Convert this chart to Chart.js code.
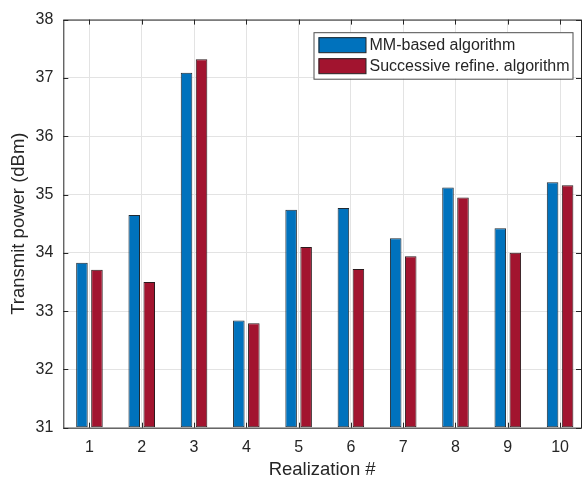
<!DOCTYPE html>
<html>
<head>
<meta charset="utf-8">
<script src="https://cdn.jsdelivr.net/npm/chart.js@4.4.1/dist/chart.umd.min.js"></script>
<style>
  html, body { margin: 0; padding: 0; background: #fff; }
  #wrap { width: 587px; height: 482px; }
</style>
</head>
<body>
<div id="wrap"><canvas id="chart" width="587" height="482"></canvas></div>
<script>
// realizaciones en el eje x
const categories = [1, 2, 3, 4, 5, 6, 7, 8, 9, 10];
const mmValues = [33.83, 34.65, 37.09, 32.84, 34.74, 34.77, 34.25, 35.12, 34.42, 35.21];
const srValues = [33.71, 33.50, 37.32, 32.79, 34.10, 33.72, 33.94, 34.95, 34.00, 35.16];
const yTicks = [31, 32, 33, 34, 35, 36, 37, 38];
const seriesNames = ["MM-based algorithm", "Successive refine. algorithm"];

const FONT = "'Liberation Sans', Arial, Helvetica, sans-serif";
const AXIS_COLOR = "#262626";
const GRID_COLOR = "#e3e3e3";
const BLUE = "#0072BD";
const RED = "#A2142F";

function toPoints(values) {
  return categories.map((c, i) => ({ x: c, y: values[i] }));
}

// caja de ejes y ticks hacia adentro (estilo matlab)
const boxPlugin = {
  id: "boxPlugin",
  afterDatasetsDraw(chart) {
    const { ctx, chartArea: a, scales } = chart;
    ctx.save();
    ctx.strokeStyle = AXIS_COLOR;
    ctx.lineWidth = 1;
    const t = 5;
    ctx.beginPath();
    categories.forEach((c) => {
      const x = Math.round(scales.x.getPixelForValue(c)) + 0.5;
      ctx.moveTo(x, a.bottom);
      ctx.lineTo(x, a.bottom - t);
      ctx.moveTo(x, a.top);
      ctx.lineTo(x, a.top + t);
    });
    yTicks.forEach((v) => {
      const y = Math.round(scales.y.getPixelForValue(v)) + 0.5;
      ctx.moveTo(a.left, y);
      ctx.lineTo(a.left + t, y);
      ctx.moveTo(a.right, y);
      ctx.lineTo(a.right - t, y);
    });
    ctx.stroke();
    ctx.strokeRect(a.left + 0.5, a.top + 0.5, a.right - a.left, a.bottom - a.top);
    ctx.restore();
  },
  afterDraw(chart) {
    // leyenda dentro del area
    const { ctx, chartArea: a } = chart;
    const right = a.right - 8.5;
    const top = a.top + 12.6;
    const w = 259;
    const h = 46.5;
    const left = right - w;
    ctx.save();
    ctx.fillStyle = "#fff";
    ctx.fillRect(left, top, w, h);
    ctx.strokeStyle = "#4d4d4d";
    ctx.lineWidth = 1;
    ctx.strokeRect(left + 0.5, top + 0.5, w, h);
    const colors = [BLUE, RED];
    ctx.font = "16px " + FONT;
    ctx.textBaseline = "middle";
    seriesNames.forEach((name, i) => {
      const py = top + 5 + i * 21;
      ctx.fillStyle = colors[i];
      ctx.fillRect(left + 5, py, 47.5, 15.5);
      ctx.strokeStyle = AXIS_COLOR;
      ctx.strokeRect(left + 5.5, py + 0.5, 47, 15);
      ctx.fillStyle = AXIS_COLOR;
      ctx.fillText(name, left + 56, py + 8.5);
    });
    ctx.restore();
  },
};

const config = {
  type: "bar",
  data: {
    datasets: [
      {
        label: seriesNames[0],
        data: toPoints(mmValues),
        backgroundColor: BLUE,
        borderColor: "#1f2a33",
        borderWidth: 1,
        borderSkipped: false,
        base: 31,
      },
      {
        label: seriesNames[1],
        data: toPoints(srValues),
        backgroundColor: RED,
        borderColor: "#2b1a1d",
        borderWidth: 1,
        borderSkipped: false,
        base: 31,
      },
    ],
  },
  options: {
    responsive: false,
    animation: false,
    layout: { padding: { top: 16.7, right: 6, left: 0, bottom: 0 } },
    categoryPercentage: 0.574,
    barPercentage: 0.77,
    plugins: {
      legend: { display: false },
      tooltip: { enabled: false },
    },
    scales: {
      x: {
        type: "linear",
        offset: false,
        min: 0.5,
        max: 10.4,
        afterBuildTicks: (scale) => {
          scale.ticks = categories.map((v) => ({ value: v }));
        },
        afterFit: (scale) => {
          scale.height = 54.3;
        },
        grid: { color: GRID_COLOR, drawTicks: false, offset: false },
        border: { display: false },
        ticks: {
          padding: 10,
          color: AXIS_COLOR,
          font: { family: FONT, size: 16 },
          callback: (v) => String(v),
        },
        title: {
          display: true,
          text: "Realization #",
          color: AXIS_COLOR,
          font: { family: FONT, size: 18.5 },
          padding: { top: 0, bottom: 1 },
        },
      },
      y: {
        min: 31,
        max: 38,
        afterBuildTicks: (scale) => {
          scale.ticks = yTicks.map((v) => ({ value: v }));
        },
        afterFit: (scale) => {
          scale.width = 63.3;
        },
        grid: { color: GRID_COLOR, drawTicks: false },
        border: { display: false },
        ticks: {
          padding: 10,
          color: AXIS_COLOR,
          font: { family: FONT, size: 16 },
        },
        title: {
          display: true,
          text: "Transmit power (dBm)",
          color: AXIS_COLOR,
          font: { family: FONT, size: 18.5 },
          padding: { top: 8, bottom: 0 },
        },
      },
    },
  },
  plugins: [boxPlugin],
};

const myChart = new Chart(document.getElementById("chart"), config);
</script>
</body>
</html>
